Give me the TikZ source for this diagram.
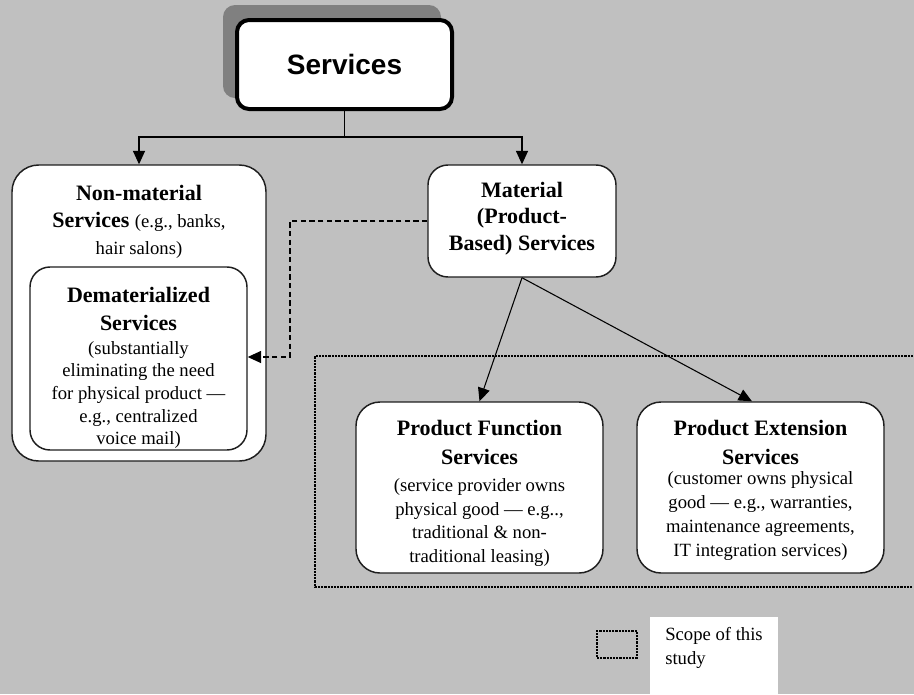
\documentclass[tikz,border=0pt]{standalone}
\usepackage{fontspec}
\setmainfont{Liberation Serif}
\newfontfamily\arialfont{Liberation Sans}
\usetikzlibrary{arrows.meta,fit}
\definecolor{bg}{RGB}{192,192,192}
\definecolor{shadowgray}{RGB}{128,128,128}
\definecolor{edge}{RGB}{30,30,30}
\begin{document}
\begin{tikzpicture}[x=0.75pt,y=-0.75pt,
  box/.style={draw=edge, fill=white, line width=1.1pt, inner sep=0pt},
  hdr/.style={font=\fontsize{16.5}{20}\selectfont\bfseries, align=center, inner sep=0pt},
  body/.style={font=\fontsize{14}{17.5}\selectfont, align=center, inner sep=0pt},
  conn/.style={line width=0.8pt, draw=black},
  tip/.style={-{Triangle[length=10pt,width=9pt]}},
  scopeline/.style={line width=1.2pt, dash pattern=on 1.6pt off 0.8pt, draw=black},
]
\fill[bg] (0,0) rectangle (914,694);
\useasboundingbox (0,0) rectangle (914,694);

% Services (top)
\fill[shadowgray, rounded corners=9pt] (223,5) rectangle (441,98);
\node[box, line width=3pt, draw=black, rounded corners=9pt, fit={(237,20)(452,109)}] (services) {};
\node[font=\arialfont\bfseries\fontsize{21}{24}\selectfont, inner sep=0pt] (servicesT) at (services.center) {Services};

% Non-material
\node[box, rounded corners=20pt, fit={(12,165)(266,461)}] (nonmat) {};
\node[hdr] (nonmatT) at (139,222) {Non-material\\Services {\normalfont\fontsize{14}{20}\selectfont (e.g., banks,}\\{\normalfont\fontsize{14}{20}\selectfont hair salons)}};

% Dematerialized
\node[box, rounded corners=15pt, fit={(30,267)(247,450)}] (demat) {};
\node[hdr, font=\fontsize{16.5}{21}\selectfont\bfseries] (dematH) at (138.5,309) {Dematerialized\\Services};
\node[body, font=\fontsize{14}{17}\selectfont] (dematB) at (138.5,395) {(substantially\\eliminating the need\\for physical product —\\e.g., centralized\\voice mail)};

% Material
\node[box, rounded corners=15pt, fit={(428,165)(616,277)}] (mat) {};
\node[hdr, font=\fontsize{16.5}{19.8}\selectfont\bfseries] (matT) at (522,218.5) {Material\\(Product-\\Based) Services};

% Product Function
\node[box, rounded corners=18pt, fit={(356,402)(603,573)}] (pf) {};
\node[hdr, font=\fontsize{16.5}{21.5}\selectfont\bfseries] (pfH) at (479.5,442.5) {Product Function\\Services};
\node[body, font=\fontsize{14}{17.75}\selectfont] (pfB) at (479.5,522.5) {(service provider owns\\physical good — e.g..,\\traditional \& non-\\traditional leasing)};

% Product Extension
\node[box, rounded corners=18pt, fit={(637,402)(884,573)}] (pe) {};
\node[hdr, font=\fontsize{16.5}{21.5}\selectfont\bfseries] (peH) at (760.5,442.5) {Product Extension\\Services};
\node[body, font=\fontsize{14}{18}\selectfont] (peB) at (760.5,516) {(customer owns physical\\good — e.g., warranties,\\maintenance agreements,\\IT integration services)};

% connectors
\coordinate (split) at (344.5,137);
\draw[conn] (services.south) -- (split);
\draw[conn,tip] (split) -| (nonmat.north);
\draw[conn,tip] (split) -| (mat.north);

\coordinate (bend) at (290,357);
\draw[conn, dash pattern=on 4pt off 2.5pt, tip] (mat.west) -| (bend) -- (demat.east |- bend);

\draw[conn,tip] (mat.south) -- (pf.north);
\draw[conn,tip] (mat.south) -- ([xshift=-6.4pt]pe.north);

% scope frame
\draw[scopeline] (913,356) -- (315,356) -- (315,587) -- (913,587);

% legend
\node[fill=white, inner sep=0pt, fit={(650,617)(778,694)}] (legendbg) {};
\node[draw, scopeline, inner sep=0pt, fit={(597,631)(637,658)}] (legendkey) {};
\node[body, align=left, anchor=west] (legendT) at (665,648) {Scope of this\\study};
\end{tikzpicture}
\end{document}
